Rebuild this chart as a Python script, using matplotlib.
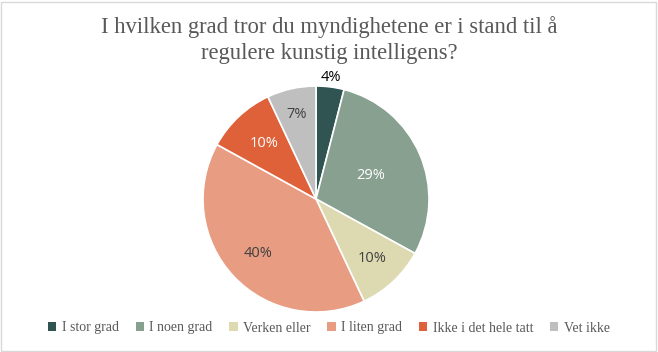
import numpy as np
import matplotlib
matplotlib.use("Agg")
import matplotlib.pyplot as plt
from matplotlib.patches import Rectangle

# ---- data ------------------------------------------------------------
title = "I hvilken grad tror du myndighetene er i stand til å\nregulere kunstig intelligens?"
categories = ["I stor grad", "I noen grad", "Verken eller", "I liten grad",
              "Ikke i det hele tatt", "Vet ikke"]
shares = [4, 29, 10, 40, 10, 7]

# ---- style -----------------------------------------------------------
colors = ["#2F5452", "#87A08F", "#DDDAB1", "#E89C82", "#DF6139", "#BFBFBF"]
label_colors = ["#000000", "#FFFFFF", "#404040", "#404040", "#FFFFFF", "#404040"]
label_dist = [1.08, 0.53, 0.72, 0.70, 0.67, 0.77]

W, H = 658, 352
fig = plt.figure(figsize=(W / 100, H / 100), dpi=100)
fig.patch.set_facecolor("white")
fig.add_artist(Rectangle((1 / W, 1 / H), 1 - 3 / W, 1 - 3 / H, transform=fig.transFigure,
                         fill=False, edgecolor="#D9D9D9", linewidth=1))

# pie centre (316, 199) px from top-left, radius ~113 px
R, cx, cy = 113, 316, H - 199
half = 1.2 * R
ax = fig.add_axes([(cx - half) / W, (cy - half) / H, 2 * half / W, 2 * half / H])

wedges, _ = ax.pie(shares, colors=colors, startangle=90, counterclock=False,
                   radius=1, wedgeprops=dict(edgecolor="white", linewidth=1.2))
ax.set_xlim(-1.2, 1.2)
ax.set_ylim(-1.2, 1.2)
ax.set_aspect("equal")
ax.axis("off")

for w, v, c, d in zip(wedges, shares, label_colors, label_dist):
    mid = np.deg2rad((w.theta1 + w.theta2) / 2)
    ax.text(d * np.cos(mid), d * np.sin(mid), f"{v}%", ha="center", va="center",
            color=c, fontsize=10.5, family="Open Sans")

fig.text(0.5, 1 - 40 / H, title, ha="center", va="center", fontsize=16.3,
         color="#595959", family="Liberation Serif", linespacing=1.3)

handles = [Rectangle((0, 0), 1, 1, facecolor=c) for c in colors]
leg = fig.legend(handles, categories, loc="center", bbox_to_anchor=(0.5, 1 - 328 / H),
                 ncol=6, frameon=False, handlelength=0.6, handleheight=0.6,
                 handletextpad=0.4, columnspacing=1.2,
                 prop=dict(family="Liberation Serif", size=10))
for t in leg.get_texts():
    t.set_color("#595959")

fig.savefig("out.png", dpi=100)
